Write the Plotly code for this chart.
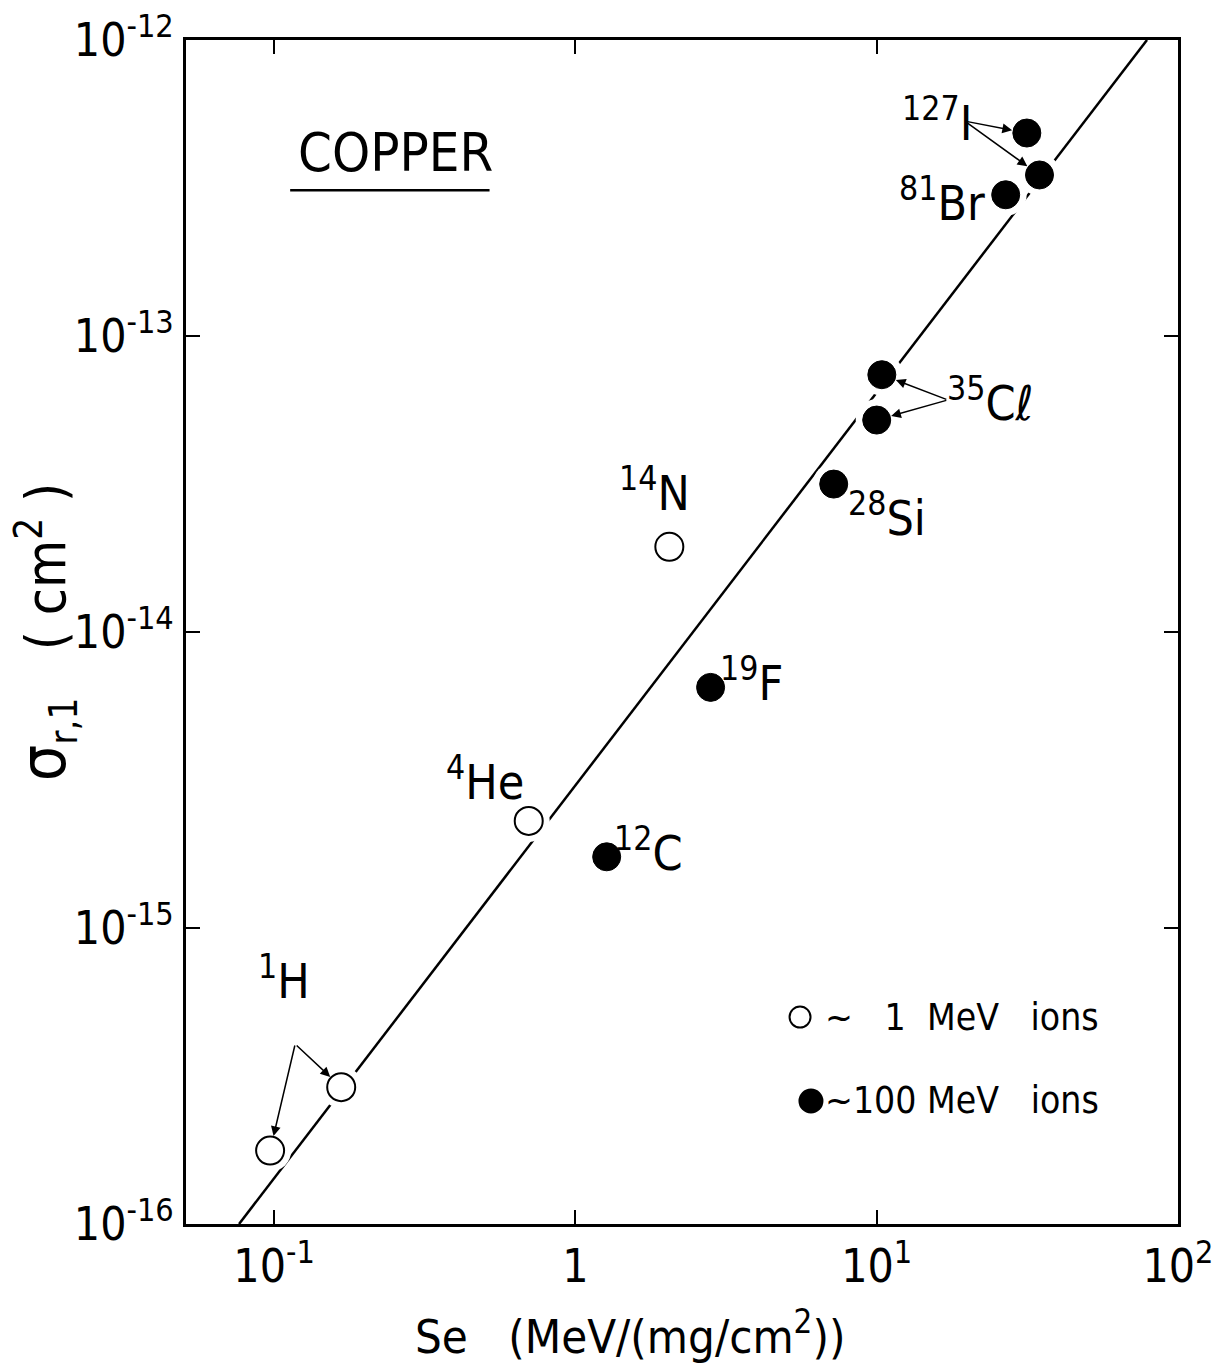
import numpy as np
import plotly.graph_objects as go

# ---- data -------------------------------------------------------------
# ~1 MeV ions (open circles)
low_ions = ["1H", "1H", "4He", "14N"]
low_se = [0.097, 0.167, 0.70, 2.05]
low_sigma = [1.77e-16, 2.9e-16, 2.3e-15, 1.94e-14]

# ~100 MeV ions (filled circles)
high_ions = ["12C", "19F", "28Si", "35Cl", "35Cl", "81Br", "127I", "127I"]
high_se = [1.27, 2.81, 7.2, 10.4, 10.0, 26.8, 31.5, 34.7]
high_sigma = [1.74e-15, 6.5e-15, 3.16e-14, 7.4e-14, 5.2e-14, 3.0e-13, 4.85e-13, 3.5e-13]

# straight-line fit in log-log space (end points)
fit_se = [0.0765, 78.9]
fit_sigma = [1e-16, 1e-12]

x_tickvals = [0.1, 1, 10, 100]
x_ticktext = ["10<sup>-1</sup>", "1", "10<sup>1</sup>", "10<sup>2</sup>"]
y_tickvals = [1e-16, 1e-15, 1e-14, 1e-13, 1e-12]
y_ticktext = ["10<sup>-16</sup>", "10<sup>-15</sup>", "10<sup>-14</sup>",
              "10<sup>-13</sup>", "10<sup>-12</sup>"]

FONT = "Liberation Sans Narrow, DejaVu Sans Condensed, Arial Narrow, sans-serif"
MARK = 28

fig = go.Figure()

# fit line
fig.add_trace(go.Scatter(x=fit_se, y=fit_sigma, mode="lines",
                         line=dict(color="black", width=2.5),
                         showlegend=False, hoverinfo="skip"))

# white halos break the line around each point
all_se = low_se + high_se
all_sigma = low_sigma + high_sigma
fig.add_trace(go.Scatter(x=all_se, y=all_sigma, mode="markers",
                         marker=dict(size=MARK + 14, color="white", line=dict(width=0)),
                         showlegend=False, hoverinfo="skip"))

fig.add_trace(go.Scatter(x=low_se, y=low_sigma, mode="markers", name="~ 1 MeV ions",
                         marker=dict(size=MARK, color="white", symbol="circle",
                                     line=dict(color="black", width=2)),
                         showlegend=False))
fig.add_trace(go.Scatter(x=high_se, y=high_sigma, mode="markers", name="~100 MeV ions",
                         marker=dict(size=MARK, color="black", symbol="circle",
                                     line=dict(color="black", width=1)),
                         showlegend=False))

# ---- ion labels -------------------------------------------------------
def ion_label(x, y, text, dx, dy, size=48):
    fig.add_annotation(x=np.log10(x), y=np.log10(y), xref="x", yref="y",
                       text=text, showarrow=False, xshift=dx, yshift=dy,
                       xanchor="center", yanchor="middle",
                       font=dict(family=FONT, size=size, color="black"))

ion_label(low_se[0], low_sigma[0], "<sup>1</sup>H", 14, 173)
ion_label(low_se[2], low_sigma[2], "<sup>4</sup>He", -44, 42)
ion_label(high_se[0], high_sigma[0], "<sup>12</sup>C", 42, 7)
ion_label(low_se[3], low_sigma[3], "<sup>14</sup>N", -15, 57)
ion_label(high_se[1], high_sigma[1], "<sup>19</sup>F", 41, 7)
ion_label(high_se[2], high_sigma[2], "<sup>28</sup>Si", 53, -31)
ion_label(high_se[4], high_sigma[4], "<sup>35</sup>Cℓ", 113, 20)
ion_label(high_se[5], high_sigma[5], "<sup>81</sup>Br", -64, -5)
ion_label(high_se[6], high_sigma[6], "<sup>127</sup>I", -90, 13)

# ---- pointer arrows (shared vertex per ion pair) ----------------------
def pointer(vx, vy, px, py):
    fig.add_annotation(x=np.log10(px), y=np.log10(py), xref="x", yref="y",
                       ax=vx, ay=vy, axref="x", ayref="y", text="",
                       showarrow=True, arrowhead=2, arrowsize=1.3, arrowwidth=1.5,
                       arrowcolor="black", standoff=MARK / 2 + 1)

h_vertex = (-0.930, -15.392)
for i in (0, 1):
    pointer(*h_vertex, low_se[i], low_sigma[i])
cl_vertex = (1.236, -13.216)
for i in (3, 4):
    pointer(*cl_vertex, high_se[i], high_sigma[i])
i_vertex = (1.292, -12.274)
for i in (6, 7):
    pointer(*i_vertex, high_se[i], high_sigma[i])

# ---- target label -----------------------------------------------------
fig.add_annotation(x=0.211, y=0.905, xref="paper", yref="paper", text="COPPER",
                   xanchor="center", yanchor="middle", showarrow=False,
                   font=dict(family=FONT, size=54, color="black"))
fig.add_shape(type="line", xref="paper", yref="paper", x0=0.105, x1=0.306,
              y0=0.873, y1=0.873, line=dict(color="black", width=2.5))

# ---- key --------------------------------------------------------------
key = [(0.1748, "white", 21, 0.619, "~   1  MeV   ions"),
       (0.1039, "black", 23, 0.630, "~100 MeV   ions")]
for yk, fill, d, xc, txt in key:
    fig.add_shape(type="circle", xref="paper", yref="paper",
                  xsizemode="pixel", ysizemode="pixel",
                  xanchor=xc, yanchor=yk, x0=-d / 2, x1=d / 2, y0=-d / 2, y1=d / 2,
                  fillcolor=fill, line=dict(color="black", width=2))
    fig.add_annotation(x=0.642, y=yk, xref="paper", yref="paper", text=txt,
                       xanchor="left", yanchor="middle", showarrow=False,
                       font=dict(family=FONT, size=37, color="black"))

# ---- axis titles ------------------------------------------------------
fig.add_annotation(x=0.448, y=-0.092, xref="paper", yref="paper",
                   xanchor="center", yanchor="middle",
                   text="Se   (MeV/(mg/cm<sup>2</sup>))", showarrow=False,
                   font=dict(family=FONT, size=47, color="black"))
fig.add_annotation(x=-0.141, y=0.5, xref="paper", yref="paper", textangle=-90,
                   xanchor="center", yanchor="middle",
                   text="<span style='font-size:64px'>σ</span><sub>r,1</sub>"
                        "   ( cm<sup>2</sup> )",
                   showarrow=False,
                   font=dict(family=FONT, size=55, color="black"))

axis_common = dict(showgrid=False, zeroline=False, showline=True, linecolor="black",
                   linewidth=3, mirror="ticks", ticks="inside", ticklen=14,
                   tickwidth=2, tickcolor="black", ticklabeloverflow="allow",
                   automargin=False,
                   tickfont=dict(family=FONT, size=46, color="black"))

fig.update_xaxes(type="log", range=[-1.2924, 2.0], tickvals=x_tickvals,
                 ticktext=x_ticktext, **axis_common)
fig.update_yaxes(type="log", range=[-16, -12], tickvals=y_tickvals,
                 ticktext=y_ticktext, **axis_common)

fig.update_layout(width=1213, height=1366, plot_bgcolor="white", paper_bgcolor="white",
                  margin=dict(l=186, r=35, t=40, b=142, autoexpand=False),
                  showlegend=False,
                  font=dict(family=FONT, color="black"))

fig.write_html("out.html")
